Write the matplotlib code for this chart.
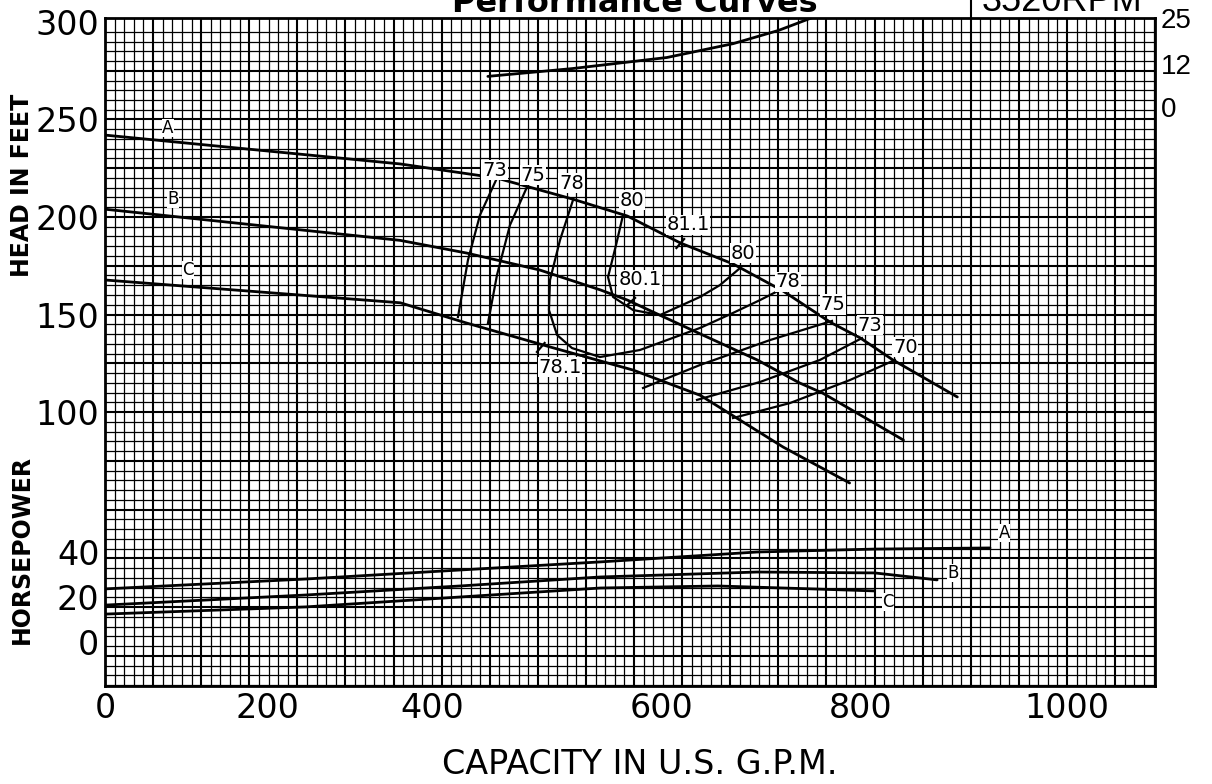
import numpy as np
import matplotlib
matplotlib.use("Agg")
import matplotlib.pyplot as plt

# ---- data (capacity in US GPM) ----
# head curves, feet
head_q = {
    "A": [0, 307, 407, 486, 543, 598, 653, 705, 754, 785, 819, 886],
    "B": [0, 307, 376, 452, 515, 543, 619, 678, 722, 746, 830],
    "C": [0, 307, 376, 463, 549, 619, 705, 774],
}
head_h = {
    "A": [242, 227.2, 220, 209.2, 200.5, 186.7, 175.9, 162, 146, 138, 126.7, 107.7],
    "B": [204, 188, 181.5, 172.8, 162.6, 157.4, 140, 126.7, 114.9, 109.7, 85.6],
    "C": [167.7, 156, 145.6, 133.3, 121.5, 108.5, 82, 63.6],
}

# horsepower curves
hp_q = {
    "A": [0, 209, 369, 515, 678, 800, 920],
    "B": [0, 209, 369, 515, 678, 800, 865],
    "C": [0, 209, 369, 515, 637, 735, 800],
}
hp_val = {
    "A": [23.6, 28, 32, 35.6, 40, 41.3, 41.8],
    "B": [16.4, 20.9, 24.9, 28.9, 31.1, 30.7, 27.6],
    "C": [12.4, 15.6, 20, 24, 24.9, 23.6, 22.7],
}

# NPSH required, feet
npsh_q = [398, 486, 584, 653, 700, 740]
npsh_ft = [8.6, 10.8, 13.9, 17.8, 21.5, 25.6]

# efficiency contours (capacity, head)
eff_q = [
    [407.5, 389.8, 377.3, 366.9],
    [438.7, 421.0, 407.5, 398.1],
    [486.5, 473.0, 462.6, 461.5, 469.9, 485.4, 514.6, 556.1, 584.2, 618.5, 652.8, 680.9, 703.7],
    [538.5, 531.2, 522.9, 528.1, 548.9, 576.9, 618.5, 639.3, 660.1],
    [559.3, 618.5, 691.3, 755.7],
    [615.4, 680.9, 743.2, 786.9],
    [652.8, 712.1, 774.4, 821.2],
]
eff_h = [
    [220.0, 201.0, 177.9, 148.7],
    [215.4, 195.9, 170.3, 145.6],
    [208.7, 188.2, 167.7, 152.3, 139.5, 132.8, 128.2, 131.8, 136.9, 143.1, 150.8, 157.4, 163.1],
    [201.0, 185.6, 169.2, 159.0, 152.3, 149.7, 159.0, 165.1, 173.8],
    [112.3, 124.1, 136.9, 146.7],
    [106.2, 115.4, 126.7, 137.9],
    [96.9, 104.6, 116.4, 126.7],
]
eff_labels = ["73", "75", "78", "80", "81.1", "80", "78", "75", "73", "70", "80.1", "78.1"]
eff_label_q = [405, 445, 485, 548, 606, 663, 710, 757, 795, 832, 556, 473]
eff_label_h = [224, 221.5, 217.4, 208.7, 196, 181.5, 166.7, 155, 144.6, 133.3, 167.7, 123]

# best-efficiency tick marks (q0, q1, h0, h1)
bep_ticks = [(594, 602, 184.1, 188.7), (543, 551, 154.9, 158.5), (449, 457, 130.8, 135.4)]

head_ticks = [100, 150, 200, 250, 300]
hp_ticks = [0, 20, 40]
npsh_ticks = [0, 12, 25]
q_labels = ["0", "200", "400", "600", "800", "1000"]
# the printed capacity labels sit unevenly on the scan
q_label_at = [0, 169, 340, 579, 785, 1000]

# ---- layout (pixels) ----
W, H = 1212, 784
L, R, T, B = 105, 1155, 18, 686

fig = plt.figure(figsize=(W / 100, H / 100), dpi=100)
rect = [L / W, 1 - B / H, (R - L) / W, (B - T) / H]
ax = fig.add_axes(rect)
ax_hp = ax.twinx()
ax_np = ax.twinx()

xmax = (R - L) / 0.962
ax.set_xlim(0, xmax)
ax.set_ylim(300 - (B - 22) / 1.95, 300 - (T - 22) / 1.95)
ax_hp.set_ylim((642 - B) / 2.25, (642 - T) / 2.25)
ax_np.set_ylim((107 - B) / 3.56, 25.0)

# graph paper
for q in np.arange(10, xmax, 10):
    heavy = q % 50 == 0
    ax.axvline(q, color="black", lw=1.5 if heavy else 0.9, zorder=1)
for h in np.arange(-40, 300, 5):
    heavy = h % 25 == 0
    ax.axhline(h, color="black", lw=1.5 if heavy else 0.9, zorder=1)

for sp in ax.spines.values():
    sp.set_linewidth(2)
for a in (ax_hp, ax_np):
    for sp in a.spines.values():
        sp.set_visible(False)

ink = dict(color="black", lw=2.0, solid_capstyle="round", zorder=3)

for k in "ABC":
    ax.plot(head_q[k], head_h[k], **ink)
    ax_hp.plot(hp_q[k], hp_val[k], **ink)

ax_np.plot(npsh_q, npsh_ft, **ink)

for qs, hs in zip(eff_q, eff_h):
    ax.plot(qs, hs, color="black", lw=1.6, zorder=3)
for q0, q1, h0, h1 in bep_ticks:
    ax.plot([q0, q1], [h0, h1], color="black", lw=1.6, zorder=3)

lab = dict(fontsize=14, color="black", ha="center", va="center", zorder=4,
           bbox=dict(facecolor="white", edgecolor="none", pad=0.5))
for s, q, h in zip(eff_labels, eff_label_q, eff_label_h):
    ax.text(q, h, s, **lab)

curve_lab = dict(fontsize=12, ha="center", va="center", zorder=4,
                 bbox=dict(facecolor="white", edgecolor="none", pad=0.3))
ax.text(65, 245.6, "A", **curve_lab)
ax.text(71, 209.2, "B", **curve_lab)
ax.text(86, 172.8, "C", **curve_lab)
ax_hp.text(935, 48.4, "A", **curve_lab)
ax_hp.text(882, 30.7, "B", **curve_lab)
ax_hp.text(814, 17.8, "C", **curve_lab)

# ticks
tick_font = dict(family="DejaVu Sans", size=24)
ax.set_xticks(q_label_at)
ax.set_xticklabels(q_labels, fontdict=tick_font)
ax.set_yticks(head_ticks)
ax.set_yticklabels([str(v) for v in head_ticks], fontdict=tick_font)
ax.tick_params(length=0, pad=4)

ax_hp.yaxis.tick_left()
ax_hp.set_yticks(hp_ticks)
ax_hp.set_yticklabels([str(v) for v in hp_ticks], fontdict=tick_font)
ax_hp.tick_params(length=0, pad=4)

ax_np.set_yticks(npsh_ticks)
ax_np.set_yticklabels([str(v) for v in npsh_ticks],
                      fontdict=dict(family="Liberation Sans", size=20))
ax_np.tick_params(length=0, pad=4)

# axis titles
fig.text(22 / W, 1 - 185 / H, "HEAD IN FEET", rotation=90, ha="center", va="center",
         fontsize=17, fontweight="bold")
fig.text(22 / W, 1 - 550 / H, "HORSEPOWER", rotation=90, ha="center", va="center",
         fontsize=17, fontweight="bold")
fig.text(640 / W, 1 - 765 / H, "CAPACITY IN U.S. G.P.M.", ha="center", va="center",
         fontsize=24)

# clipped heading strip at the top of the scan
fig.text(635 / W, 1 - 12 / H, "Performance Curves", ha="center", va="baseline",
         fontsize=23, fontweight="bold")
fig.text(1062 / W, 1 - 11 / H, "3520RPM", ha="center", va="baseline",
         fontsize=26, family="Liberation Sans")
fig.add_artist(plt.Line2D([971 / W, 971 / W], [1 - T / H, 1.0], color="black", lw=1.5))

fig.savefig("out.png", dpi=100)
